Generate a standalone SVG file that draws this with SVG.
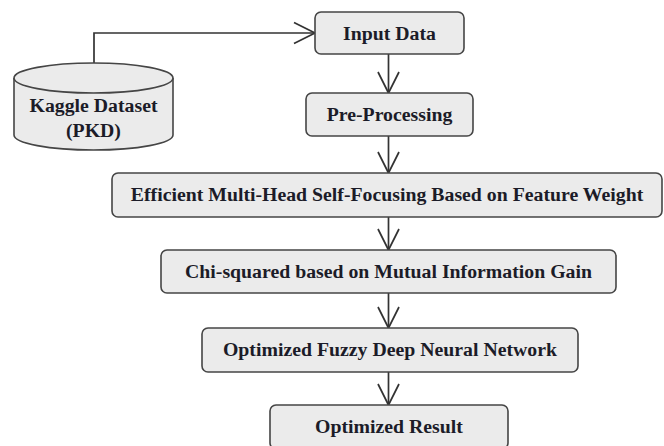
<svg xmlns="http://www.w3.org/2000/svg" width="664" height="446" viewBox="0 0 664 446">
<style>
.box{fill:#ebebeb;stroke:#454545;stroke-width:1.6}
.lbl{font-family:"Liberation Serif","Times New Roman",serif;font-weight:bold;font-size:19.8px;fill:#1c1c28;text-anchor:middle}
.conn{fill:none;stroke:#333;stroke-width:1.7}
</style>
<defs>
<marker id="arr" markerUnits="userSpaceOnUse" viewBox="0 0 24 24" refX="22" refY="12" markerWidth="24" markerHeight="24" orient="auto">
<path d="M1,1.5 L22,12 L1,22.5" fill="none" stroke="#333" stroke-width="1.7"/>
</marker>
</defs>
<rect width="664" height="446" fill="#fff"/>
<g id="connectors">
<path class="conn" d="M94,63 V33 H315" marker-end="url(#arr)"/>
<path class="conn" d="M388.5,54 V93" marker-end="url(#arr)"/>
<path class="conn" d="M388.5,136 V173" marker-end="url(#arr)"/>
<path class="conn" d="M388.5,217 V250" marker-end="url(#arr)"/>
<path class="conn" d="M388.5,293 V328" marker-end="url(#arr)"/>
<path class="conn" d="M388.5,372 V405" marker-end="url(#arr)"/>
</g>
<g id="kaggle">
<path class="box" d="M14,78 V135 A79.5,15 0 0 0 173,135 V78 A79.5,15 0 0 0 14,78 Z"/>
<path class="box" d="M14,78 A79.5,15 0 0 0 173,78" fill="none"/>
<text class="lbl" x="93.5" y="112">Kaggle Dataset</text>
<text class="lbl" x="93.5" y="137">(PKD)</text>
</g>
<g id="input">
<rect class="box" x="315" y="12" width="149" height="42" rx="6"/>
<text class="lbl" x="389.5" y="40">Input Data</text>
</g>
<g id="preprocessing">
<rect class="box" x="306" y="93" width="167" height="43" rx="6"/>
<text class="lbl" x="389.5" y="121">Pre-Processing</text>
</g>
<g id="efficient">
<rect class="box" x="112" y="173" width="550" height="44" rx="6"/>
<text class="lbl" x="387" y="201">Efficient Multi-Head Self-Focusing Based on Feature Weight</text>
</g>
<g id="chi">
<rect class="box" x="161" y="250" width="455" height="43" rx="6"/>
<text class="lbl" x="388.5" y="277.5">Chi-squared based on Mutual Information Gain</text>
</g>
<g id="fuzzy">
<rect class="box" x="202" y="328" width="376" height="44" rx="6"/>
<text class="lbl" x="390" y="355.5">Optimized Fuzzy Deep Neural Network</text>
</g>
<g id="result">
<rect class="box" x="270" y="405" width="238" height="44" rx="6"/>
<text class="lbl" x="389" y="433">Optimized Result</text>
</g>
</svg>
